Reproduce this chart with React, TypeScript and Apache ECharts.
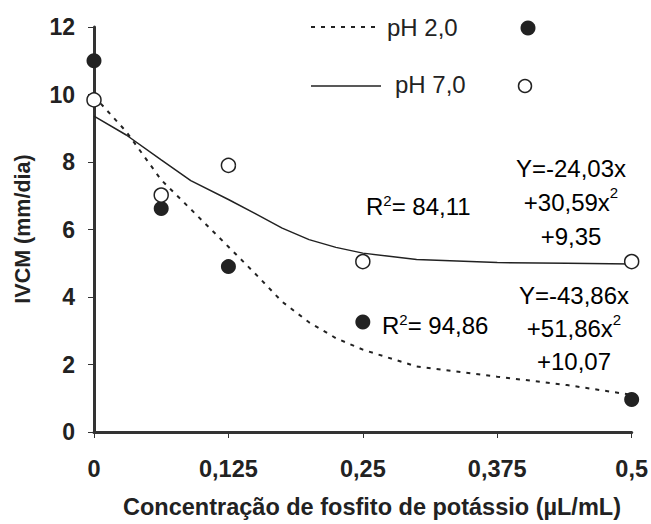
import React, { useEffect, useRef } from "react";
import * as echarts from "echarts";

const xTicks = [0, 0.125, 0.25, 0.375, 0.5];
const doseX = [0, 0.0625, 0.125, 0.25, 0.5];
const obsPH2 = [11.0, 6.62, 4.9, 3.26, 0.96];
const obsPH7 = [9.84, 7.02, 7.9, 5.05, 5.05];

const curveX = [0, 0.03, 0.0625, 0.09, 0.125, 0.15, 0.175, 0.2, 0.225, 0.25, 0.3, 0.375, 0.44, 0.5];
const curvePH2 = [9.95, 8.9, 7.47, 6.6, 5.49, 4.69, 3.86, 3.25, 2.78, 2.44, 1.94, 1.64, 1.39, 1.1];
const curvePH7 = [9.36, 8.8, 8.06, 7.45, 6.89, 6.47, 6.04, 5.7, 5.47, 5.3, 5.11, 5.02, 5.0, 4.98];

const legendNames = ["pH 2,0", "pH 7,0"];
const r2Texts = ["84,11", "94,86"];
const eqPH7 = ["Y=-24,03x", "+30,59x", "+9,35"];
const eqPH2 = ["Y=-43,86x", "+51,86x", "+10,07"];

const FONT = '"Liberation Sans", Arial, Helvetica, sans-serif';
const INK = "#222";

export default function App() {
  const ref = useRef<HTMLDivElement>(null);
  useEffect(() => {
    if (!ref.current) return;
    const chart = echarts.init(ref.current, undefined, { renderer: "svg" });
    const pairs = (xs: number[], ys: number[]) => xs.map((x, i) => [x, ys[i]]);
    const rich = {
      n: { fontSize: 24, fontFamily: FONT, color: INK },
      s: { fontSize: 15, fontFamily: FONT, color: INK, verticalAlign: "top" as const, padding: [0, 0, 12, 0] },
    };
    const eqText = (lines: string[]) =>
      `{n|${lines[0]}}\n{n|${lines[1]}}{s|2}\n{n|${lines[2]}}`;
    chart.setOption({
      animation: false,
      backgroundColor: "#fff",
      grid: { left: 94, right: 17, top: 27, bottom: 92, containLabel: false },
      xAxis: {
        type: "value",
        min: 0,
        max: 0.5,
        interval: 0.125,
        splitLine: { show: false },
        axisLine: { lineStyle: { color: "#333", width: 3 } },
        axisTick: { show: true, length: 6, inside: false, lineStyle: { color: "#333", width: 1 } },
        axisLabel: {
          margin: 25,
          fontSize: 23.5,
          fontWeight: "bold",
          fontFamily: FONT,
          color: INK,
          formatter: (v: number) => (xTicks.includes(v) ? String(v).replace(".", ",") : ""),
        },
      },
      yAxis: {
        type: "value",
        min: 0,
        max: 12,
        interval: 2,
        splitLine: { show: false },
        axisLine: { show: true, lineStyle: { color: "#333", width: 3 } },
        axisTick: { show: true, length: 6, inside: false, lineStyle: { color: "#333", width: 1 } },
        axisLabel: { margin: 19, fontSize: 23, fontWeight: "bold", fontFamily: FONT, color: INK },
      },
      graphic: [
        {
          type: "text",
          x: 23,
          y: 229,
          rotation: Math.PI / 2,
          style: {
            text: "IVCM (mm/dia)",
            font: `bold 21.5px ${FONT}`,
            fill: INK,
            align: "center",
            verticalAlign: "middle",
          },
        },
        {
          type: "text",
          x: 372,
          y: 507,
          style: {
            text: "Concentração de fosfito de potássio (µL/mL)",
            font: `bold 23.5px ${FONT}`,
            fill: INK,
            align: "center",
            verticalAlign: "middle",
          },
        },
        {
          type: "line",
          shape: { x1: 311, y1: 27, x2: 381, y2: 27 },
          style: { stroke: INK, lineWidth: 2, lineDash: [4, 6] },
        },
        {
          type: "text",
          x: 387,
          y: 27,
          style: { text: legendNames[0], font: `24px ${FONT}`, fill: INK, align: "left", verticalAlign: "middle" },
        },
        { type: "circle", shape: { cx: 528, cy: 28, r: 7.5 }, style: { fill: INK } },
        {
          type: "line",
          shape: { x1: 311, y1: 86, x2: 381, y2: 86 },
          style: { stroke: INK, lineWidth: 1.5 },
        },
        {
          type: "text",
          x: 395,
          y: 84,
          style: { text: legendNames[1], font: `24px ${FONT}`, fill: INK, align: "left", verticalAlign: "middle" },
        },
        { type: "circle", shape: { cx: 525, cy: 86, r: 6.5 }, style: { fill: "#fff", stroke: INK, lineWidth: 1.5 } },
        {
          type: "text",
          x: 366,
          y: 206,
          style: { text: `{n|R}{s|2}{n|= ${r2Texts[0]}}`, rich, align: "left", verticalAlign: "middle" },
        },
        {
          type: "text",
          x: 382,
          y: 325,
          style: { text: `{n|R}{s|2}{n|= ${r2Texts[1]}}`, rich, align: "left", verticalAlign: "middle" },
        },
        {
          type: "text",
          x: 571,
          y: 202,
          style: { text: eqText(eqPH7), rich, align: "center", verticalAlign: "middle", lineHeight: 34 },
        },
        {
          type: "text",
          x: 574,
          y: 328,
          style: { text: eqText(eqPH2), rich, align: "center", verticalAlign: "middle", lineHeight: 33 },
        },
      ],
      series: [
        {
          name: legendNames[0] + " ajuste",
          type: "line",
          data: pairs(curveX, curvePH2),
          smooth: false,
          showSymbol: false,
          lineStyle: { color: INK, width: 2, type: [4, 6] },
          z: 2,
        },
        {
          name: legendNames[1] + " ajuste",
          type: "line",
          data: pairs(curveX, curvePH7),
          smooth: false,
          showSymbol: false,
          lineStyle: { color: INK, width: 1.5 },
          z: 2,
        },
        {
          name: legendNames[0],
          type: "scatter",
          data: pairs(doseX, obsPH2),
          symbol: "circle",
          symbolSize: 15,
          itemStyle: { color: INK, opacity: 1 },
          z: 5,
        },
        {
          name: legendNames[1],
          type: "scatter",
          data: pairs(doseX, obsPH7),
          symbol: "circle",
          symbolSize: 14,
          itemStyle: { color: "#fff", borderColor: INK, borderWidth: 1.5, opacity: 1 },
          z: 6,
        },
      ],
    });
    return () => chart.dispose();
  }, []);
  return <div ref={ref} style={{ width: 651, height: 524, position: "absolute", left: 0, top: 0 }} />;
}
